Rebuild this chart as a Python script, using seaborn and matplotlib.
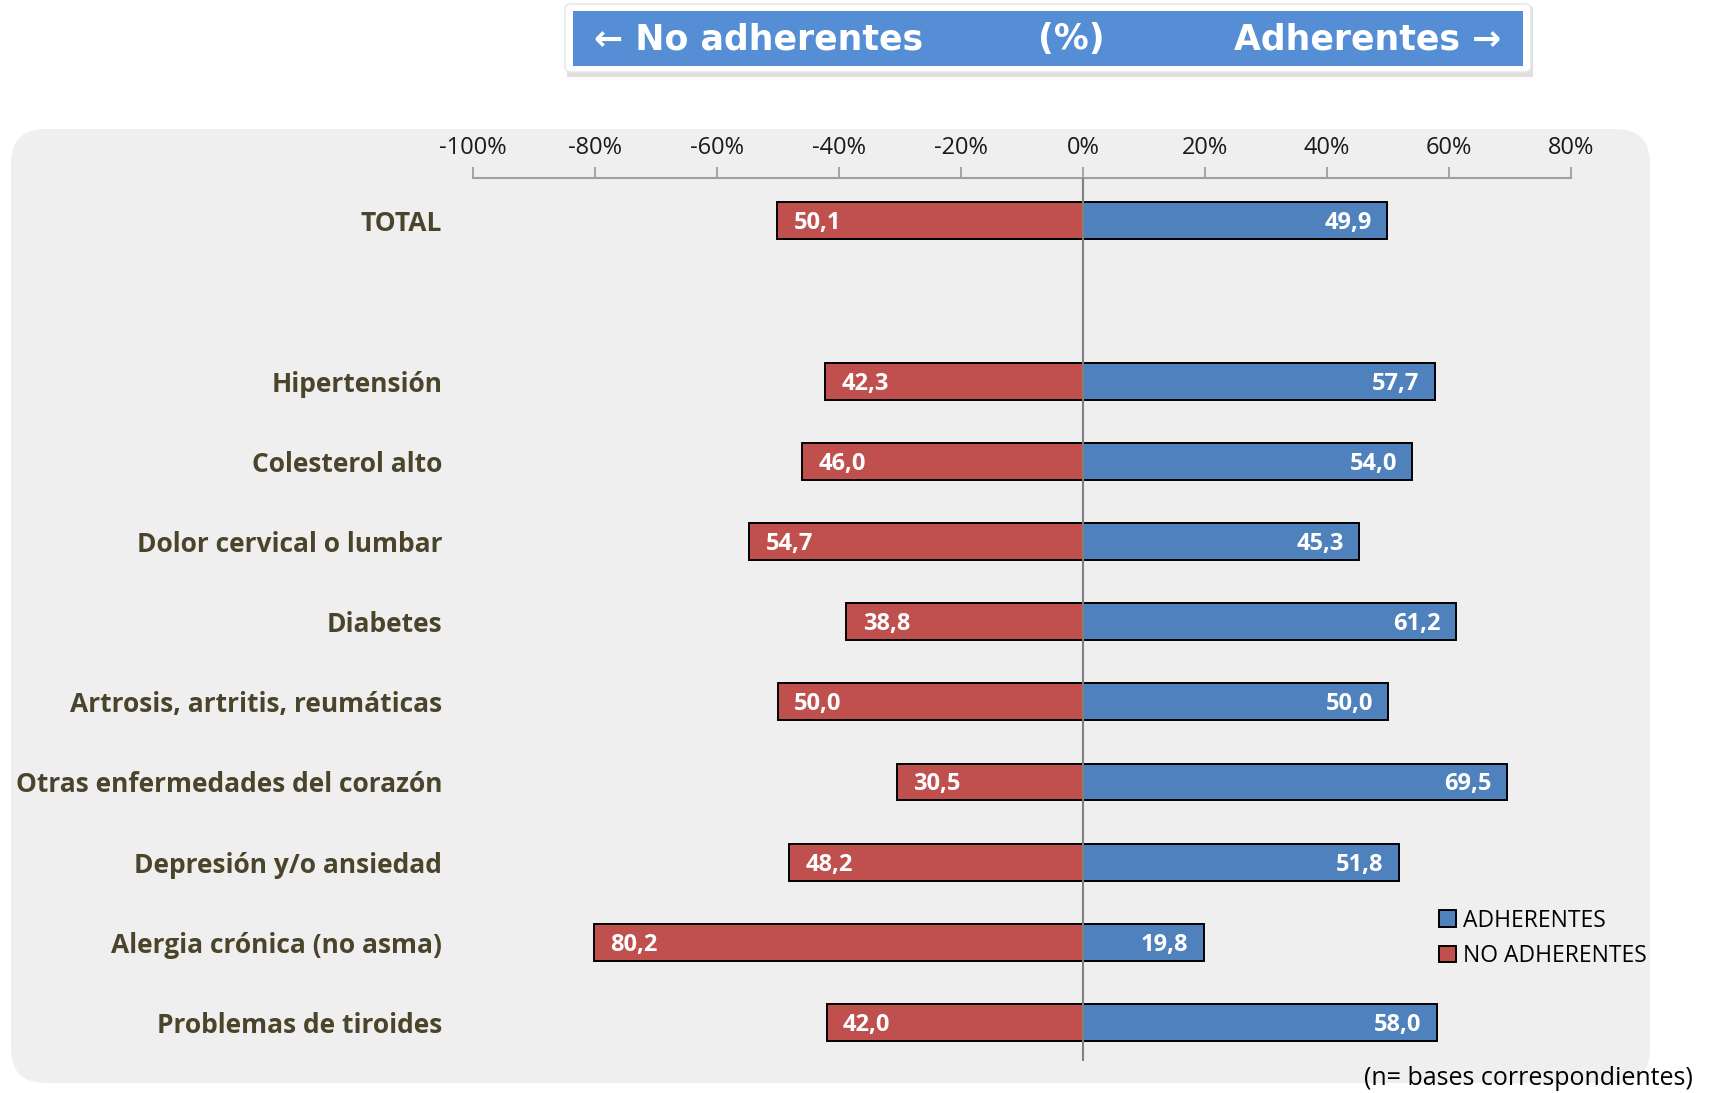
import numpy as np
import pandas as pd
import matplotlib
matplotlib.use('agg')
import matplotlib.pyplot as plt  # noqa
from matplotlib.patches import FancyBboxPatch, Rectangle
import seaborn as sns

# data
categories = ["TOTAL", " ", "Hipertensión", "Colesterol alto", "Dolor cervical o lumbar",
              "Diabetes", "Artrosis, artritis, reumáticas", "Otras enfermedades del corazón",
              "Depresión y/o ansiedad", "Alergia crónica (no asma)", "Problemas de tiroides"]
no_adherentes = [50.1, np.nan, 42.3, 46.0, 54.7, 38.8, 50.0, 30.5, 48.2, 80.2, 42.0]
adherentes = [49.9, np.nan, 57.7, 54.0, 45.3, 61.2, 50.0, 69.5, 51.8, 19.8, 58.0]
x_ticks = [-100, -80, -60, -40, -20, 0, 20, 40, 60, 80]

RED = "#C0504D"
BLUE = "#4F81BD"
TEXT = "#4A452A"
FONT = "Open Sans"

df = pd.concat([
    pd.DataFrame({"cat": categories, "val": adherentes, "grupo": "ADHERENTES"}),
    pd.DataFrame({"cat": categories, "val": [-v for v in no_adherentes], "grupo": "NO ADHERENTES"}),
]).dropna()

W, H = 1715, 1093
fig = plt.figure(figsize=(W / 100, H / 100), dpi=100)

# light grey rounded panel behind the chart
panel = FancyBboxPatch((11 / W, 10 / H), 1639 / W, 954 / H,
                       boxstyle="round,pad=0,rounding_size=0.02",
                       transform=fig.transFigure, facecolor="#EFEFEF", edgecolor="none",
                       mutation_aspect=W / H, zorder=-5)
fig.patches.append(panel)

ax = fig.add_axes([472.7 / W, 1 - 1061 / H, (1571 - 472.7) / W, (1061 - 178.3) / H])
ax.set_facecolor("none")

sns.barplot(data=df, y="cat", x="val", hue="grupo", order=categories, orient="h",
            dodge=False, width=0.46, saturation=1,
            palette={"ADHERENTES": BLUE, "NO ADHERENTES": RED},
            edgecolor="black", linewidth=1.4, ax=ax, legend=True, zorder=2)

ax.set_xlim(-100, 80)
ax.set_ylim(10.48, -0.53)
ax.set_xlabel("")
ax.set_ylabel("")

# top axis with percent labels
ax.xaxis.tick_top()
ax.set_xticks(x_ticks)
ax.set_xticklabels([f"{t}%" for t in x_ticks], fontsize=17, family=FONT, color="#1a1a1a")
ax.tick_params(axis="x", direction="out", length=8, width=1.3, color="#A0A0A0", pad=5)
ax.tick_params(axis="y", length=0, pad=22)
for lab in ax.get_yticklabels():
    lab.set_fontsize(19)
    lab.set_fontweight("bold")
    lab.set_family(FONT)
    lab.set_color(TEXT)

for side in ["bottom", "left", "right"]:
    ax.spines[side].set_visible(False)
ax.spines["top"].set_color("#A0A0A0")
ax.spines["top"].set_linewidth(1.5)
ax.axvline(0, color="#808080", lw=1.5, zorder=3)

# value labels inside the bars
for i, (n, a) in enumerate(zip(no_adherentes, adherentes)):
    if np.isnan(n):
        continue
    ax.text(-n + 2.7, i + 0.03, f"{n:.1f}".replace(".", ","), ha="left", va="center",
            color="white", fontsize=17, fontweight="bold", family=FONT, zorder=4)
    ax.text(a - 2.5, i + 0.03, f"{a:.1f}".replace(".", ","), ha="right", va="center",
            color="white", fontsize=17, fontweight="bold", family=FONT, zorder=4)

handles, labels = ax.get_legend_handles_labels()
ax.legend(handles, labels, loc="upper left", bbox_to_anchor=(1418 / W, 1 - 888 / H),
          bbox_transform=fig.transFigure, frameon=False, handlelength=0.75, handleheight=0.75,
          handletextpad=0.3, labelspacing=0.5, prop={"family": FONT, "size": 16.5})

fig.text(1693 / W, 1 - 1091 / H, "(n= bases correspondientes)", ha="right", va="bottom",
         fontsize=18, family=FONT, color="black")

# header box
shadow = Rectangle((567 / W, 1 - 77 / H), 966 / W, 70 / H, transform=fig.transFigure,
                   facecolor="#C0C0C0", edgecolor="none", alpha=0.5)
outer = FancyBboxPatch((565 / W, 1 - 72 / H), 966 / W, 68 / H,
                       boxstyle="round,pad=0,rounding_size=0.004", transform=fig.transFigure,
                       facecolor="white", edgecolor="#E4E4E4", lw=1)
inner = Rectangle((573 / W, 1 - 66 / H), 950 / W, 55 / H, transform=fig.transFigure,
                  facecolor="#558ED5", edgecolor="none")
fig.patches.extend([shadow, outer, inner])
hy = 1 - 39 / H
fig.text(594 / W, hy, "← No adherentes", ha="left", va="center", color="white",
         fontsize=25, fontweight="bold", family="DejaVu Sans")
fig.text(1071 / W, hy, "(%)", ha="center", va="center", color="white",
         fontsize=25, fontweight="bold", family="DejaVu Sans")
fig.text(1501 / W, hy, "Adherentes →", ha="right", va="center", color="white",
         fontsize=25, fontweight="bold", family="DejaVu Sans")

fig.savefig("out.png", dpi=100, facecolor="white")
